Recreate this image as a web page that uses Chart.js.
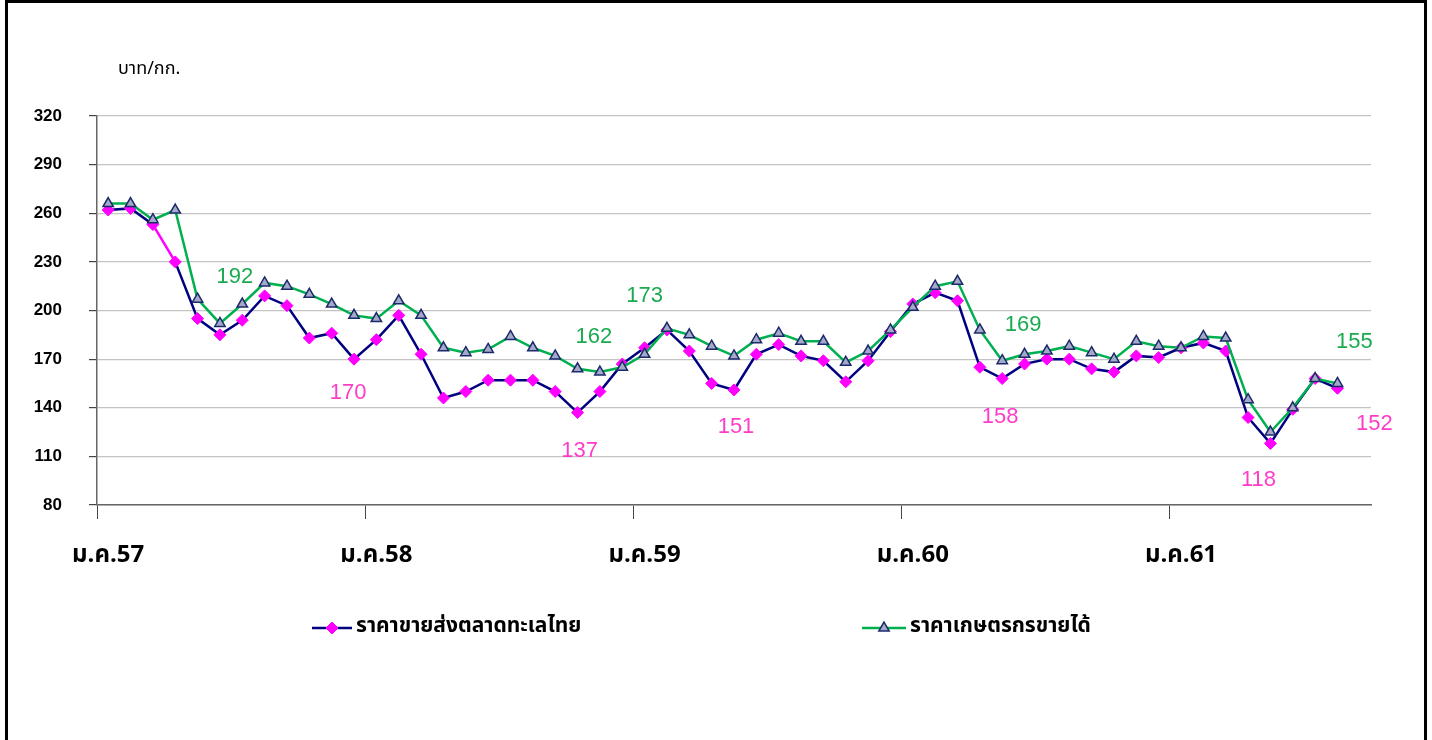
<!DOCTYPE html>
<html>
<head>
<meta charset="utf-8">
<script src="https://cdn.jsdelivr.net/npm/chart.js@4.4.1/dist/chart.umd.min.js"></script>
<style>
  body { margin: 0; background: #fff; }
  #frame { position: absolute; left: 5px; top: 0; width: 1422px; height: 800px; border: 3px solid #000; box-sizing: border-box; }
  #priceChart { position: absolute; left: 0; top: 0; }
</style>
</head>
<body>
<div id="frame"></div>
<canvas id="priceChart" width="1432" height="740"></canvas>
<script>
const months = ['ม.ค.', 'ก.พ.', 'มี.ค.', 'เม.ย.', 'พ.ค.', 'มิ.ย.', 'ก.ค.', 'ส.ค.', 'ก.ย.', 'ต.ค.', 'พ.ย.', 'ธ.ค.'];
const years = ['57', '58', '59', '60', '61'];
const categories = [];
years.forEach(y => months.forEach(m => categories.push(m + y)));
categories.length = 57; // ม.ค.57 - ก.ย.61

// ราคาขายส่งตลาดทะเลไทย (บาท/กก.)
const wholesale = [262, 263, 253, 230, 195, 185, 194, 209, 203, 183, 186, 170,
  182, 197, 173, 146, 150, 157, 157, 157, 150, 137, 150, 167,
  177, 188, 175, 155, 151, 173, 179, 172, 169, 156, 169, 187,
  204, 211, 206, 165, 158, 167, 170, 170, 164, 162, 172, 171,
  177, 180, 175, 134, 118, 139, 158, 152, null];

// ราคาเกษตรกรขายได้ (บาท/กก.)
const farmgate = [266, 266, 256, 262, 207, 192, 204, 217, 215, 210, 204, 197,
  195, 206, 197, 177, 174, 176, 184, 177, 172, 164, 162, 165,
  173, 189, 185, 178, 172, 182, 186, 181, 181, 168, 175, 188,
  202, 215, 218, 188, 169, 173, 175, 178, 174, 170, 181, 178,
  177, 184, 183, 145, 125, 140, 158, 155, null];

const yMin = 80, yMax = 320, yStep = 30;

const NAVY = '#000080', PINK = '#ff00ff', GREEN = '#00b050';
const GREEN_TEXT = '#1aaa50', PINK_TEXT = '#ff3cc8';

// which points carry a value label, and where the text sits relative to the point
const pointLabels = [
  { ds: 1, i: 5, dx: 15, dy: -47 },
  { ds: 1, i: 22, dx: -6, dy: -35 },
  { ds: 1, i: 24, dx: 0, dy: -58 },
  { ds: 1, i: 40, dx: 21, dy: -36 },
  { ds: 1, i: 55, dx: 17, dy: -42 },
  { ds: 0, i: 11, dx: -6, dy: 34 },
  { ds: 0, i: 21, dx: 2, dy: 38 },
  { ds: 0, i: 28, dx: 2, dy: 37 },
  { ds: 0, i: 40, dx: -2, dy: 38 },
  { ds: 0, i: 52, dx: -12, dy: 37 },
  { ds: 0, i: 55, dx: 37, dy: 36 }
];

const thaiFont = "Tahoma, 'Noto Sans Thai', Loma, 'Noto Sans', sans-serif";

const extras = {
  id: 'extras',
  afterDatasetsDraw(chart) {
    const c = chart.ctx;
    c.save();
    // value labels
    c.font = "22px 'Liberation Sans', Arial, sans-serif";
    c.textAlign = 'center';
    c.textBaseline = 'middle';
    pointLabels.forEach(p => {
      const pt = chart.getDatasetMeta(p.ds).data[p.i];
      const v = chart.data.datasets[p.ds].data[p.i];
      c.fillStyle = p.ds === 1 ? GREEN_TEXT : PINK_TEXT;
      c.fillText(Math.round(v), pt.x + p.dx, pt.y + p.dy);
    });
    // unit
    c.fillStyle = '#000';
    c.textAlign = 'left';
    c.font = '18px ' + thaiFont;
    c.fillText('บาท/กก.', 118, 70);
    // legend
    const items = [
      { ds: 0, x0: 312, x1: 352, tx: 356 },
      { ds: 1, x0: 862, x1: 906, tx: 910 }
    ];
    const ly = 628;
    items.forEach(it => {
      const d = chart.data.datasets[it.ds];
      c.strokeStyle = d.borderColor;
      c.lineWidth = 2.5;
      c.beginPath();
      c.moveTo(it.x0, ly);
      c.lineTo(it.x1, ly);
      c.stroke();
      c.fillStyle = d.pointBackgroundColor;
      c.strokeStyle = d.pointBorderColor;
      c.lineWidth = d.pointBorderWidth;
      Chart.helpers.drawPoint(c, {
        pointStyle: d.pointStyle, radius: d.pointRadius, borderWidth: d.pointBorderWidth, rotation: 0
      }, (it.x0 + it.x1) / 2, ly);
      c.fillStyle = '#000';
      c.font = 'bold 21px ' + thaiFont;
      c.textBaseline = 'middle';
      c.fillText(d.label, it.tx, ly);
    });
    c.restore();
  }
};

new Chart(document.getElementById('priceChart'), {
  type: 'line',
  data: {
    labels: categories,
    datasets: [{
      label: 'ราคาขายส่งตลาดทะเลไทย',
      data: wholesale,
      borderColor: NAVY,
      borderWidth: 2.5,
      pointStyle: 'rectRot',
      pointRadius: 6,
      pointBackgroundColor: PINK,
      pointBorderColor: PINK,
      pointBorderWidth: 1,
      tension: 0,
      order: 2,
      segment: {
        borderColor: ctx => ctx.p0DataIndex === 2 ? PINK : undefined
      }
    }, {
      label: 'ราคาเกษตรกรขายได้',
      data: farmgate,
      borderColor: GREEN,
      borderWidth: 2.5,
      pointStyle: 'triangle',
      pointRadius: 6,
      pointBackgroundColor: '#a3a9c6',
      pointBorderColor: '#1c2a6c',
      pointBorderWidth: 1.5,
      tension: 0,
      order: 1
    }]
  },
  options: {
    responsive: false,
    devicePixelRatio: 1,
    animation: false,
    layout: { padding: { top: 116, right: 61, left: 0, bottom: 0 } },
    plugins: { legend: { display: false }, tooltip: { enabled: false } },
    scales: {
      x: {
        offset: true,
        afterFit: s => { s.height = 235; },
        border: { color: '#666', width: 1.5 },
        grid: {
          offset: true,
          drawOnChartArea: false,
          tickLength: 14,
          color: ctx => ctx.index % 12 === 0 ? '#444' : 'rgba(0,0,0,0)',
          tickColor: ctx => ctx.index % 12 === 0 ? '#444' : 'rgba(0,0,0,0)'
        },
        ticks: {
          autoSkip: false,
          maxRotation: 0,
          minRotation: 0,
          padding: 24,
          color: '#000',
          font: { family: thaiFont, size: 24, weight: 'bold' },
          callback: (v, i) => i % 12 === 0 ? categories[i] : ''
        }
      },
      y: {
        min: yMin,
        max: yMax,
        afterFit: s => { s.width = 97; },
        border: { color: '#666', width: 1.5 },
        grid: { color: '#c4c4c4', lineWidth: 1.2, tickLength: 8, tickColor: '#444' },
        ticks: {
          stepSize: yStep,
          padding: 27,
          color: '#000',
          font: { family: "'Liberation Sans', Arial, sans-serif", size: 17, weight: 'bold' }
        }
      }
    }
  },
  plugins: [extras]
});
</script>
</body>
</html>
